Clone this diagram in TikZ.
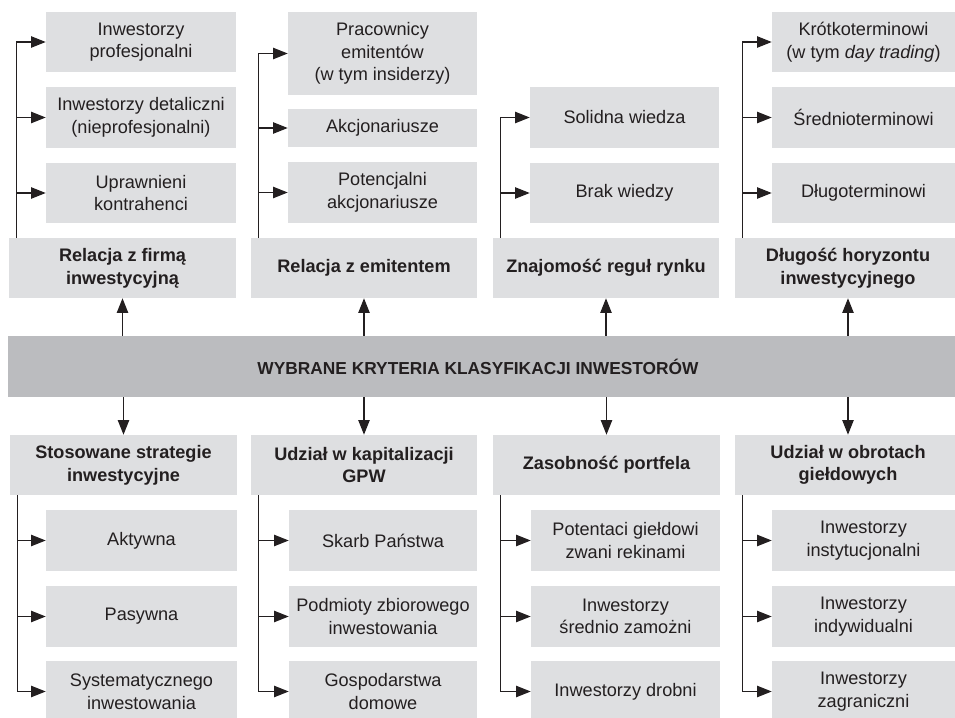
\documentclass[tikz,border=0pt]{standalone}
\usepackage{fontspec}
\setmainfont{Liberation Sans}
\usetikzlibrary{arrows.meta}
\definecolor{boxg}{HTML}{DEDFE1}
\definecolor{barg}{HTML}{BBBCBF}
\definecolor{ink}{HTML}{231F20}
\tikzset{
  bx/.style={fill=boxg, draw=none, inner sep=0pt, align=center, text=ink,
    font=\fontsize{13.6}{17}\selectfont},
  catbox/.style={bx, font=\fontsize{13.6}{17}\selectfont\bfseries},
  barbox/.style={fill=barg, draw=none, inner sep=0pt},
  arr/.style={draw=ink, line width=1pt, -{Triangle[length=11pt,width=8.5pt]}},
}
\newcommand\placebox[7]{%
  \node[#1, minimum width={0.75pt*(#5-#3)}, minimum height={0.75pt*(#6-#4)}]
    (#2) at ({(#3+#5)/2},{(#4+#6)/2}) {#7};}
\begin{document}
\begin{tikzpicture}[x=0.75pt,y=-0.75pt]
\useasboundingbox (0,0) rectangle (955,717);
\clip (0,0) rectangle (955,717);
% ---------- top row ----------
\placebox{catbox}{t1}{9}{238}{236}{298}{Relacja z firmą\\inwestycyjną}
\placebox{bx}{t11}{46}{12}{236}{72}{Inwestorzy\\profesjonalni}
\placebox{bx}{t12}{46}{87}{236}{148}{Inwestorzy detaliczni\\(nieprofesjonalni)}
\placebox{bx}{t13}{46}{163}{236}{223}{Uprawnieni\\kontrahenci}

\placebox{catbox}{t2}{251}{238}{477}{298}{Relacja z emitentem}
\placebox{bx}{t21}{288}{12}{477}{95}{Pracownicy\\emitentów\\(w tym insiderzy)}
\placebox{bx}{t22}{288}{109}{477}{147}{Akcjonariusze}
\placebox{bx}{t23}{288}{162}{477}{223}{Potencjalni\\akcjonariusze}

\placebox{catbox}{t3}{493}{238}{719}{298}{Znajomość reguł rynku}
\placebox{bx}{t31}{530}{87}{719}{148}{Solidna wiedza}
\placebox{bx}{t32}{530}{163}{719}{223}{Brak wiedzy}

\placebox{catbox}{t4}{735}{238}{961}{298}{Długość horyzontu\\inwestycyjnego}
\placebox{bx}{t41}{772}{12}{955}{72}{Krótkoterminowi\\(w tym \textit{day trading})}
\placebox{bx}{t42}{772}{87}{955}{148}{Średnioterminowi}
\placebox{bx}{t43}{772}{163}{955}{223}{Długoterminowi}

% ---------- central bar ----------
\placebox{barbox}{bar}{8}{336}{961}{397}{}
\node[text=ink, font=\fontsize{13}{16}\selectfont\bfseries] (title) at (478,366.5)
  {WYBRANE KRYTERIA KLASYFIKACJI INWESTORÓW};

% ---------- bottom row ----------
\placebox{catbox}{b1}{10}{435}{237}{495}{Stosowane strategie\\inwestycyjne}
\placebox{bx}{b11}{46}{510}{237}{571}{Aktywna}
\placebox{bx}{b12}{46}{586}{237}{647}{Pasywna}
\placebox{bx}{b13}{46}{661}{237}{722}{Systematycznego\\inwestowania}

\placebox{catbox}{b2}{251}{435}{477}{495}{Udział w kapitalizacji\\GPW}
\placebox{bx}{b21}{289}{510}{477}{571}{Skarb Państwa}
\placebox{bx}{b22}{289}{586}{477}{647}{Podmioty zbiorowego\\inwestowania}
\placebox{bx}{b23}{289}{661}{477}{722}{Gospodarstwa\\domowe}

\placebox{catbox}{b3}{493}{435}{720}{495}{Zasobność portfela}
\placebox{bx}{b31}{531}{510}{720}{571}{Potentaci giełdowi\\zwani rekinami}
\placebox{bx}{b32}{531}{586}{720}{647}{Inwestorzy\\średnio zamożni}
\placebox{bx}{b33}{531}{661}{720}{722}{Inwestorzy drobni}

\placebox{catbox}{b4}{735}{435}{961}{495}{Udział w obrotach\\giełdowych}
\placebox{bx}{b41}{772}{510}{955}{571}{Inwestorzy\\instytucjonalni}
\placebox{bx}{b42}{772}{586}{955}{647}{Inwestorzy\\indywidualni}
\placebox{bx}{b43}{772}{661}{955}{722}{Inwestorzy\\zagraniczni}

% ---------- connectors: bar to categories ----------
\foreach \c in {t1,t2,t3,t4}
  \draw[arr] (\c.south |- bar.north) -- (\c.south);
\foreach \c in {b1,b2,b3,b4}
  \draw[arr] (\c.north |- bar.south) -- (\c.north);

% ---------- connectors: categories to items ----------
\foreach \c/\k in {t1/t11,t1/t12,t1/t13,t2/t21,t2/t22,t2/t23,t3/t31,t3/t32,t4/t41,t4/t42,t4/t43}
  \draw[arr] ([xshift=6pt]\c.north west) |- (\k.west);
\foreach \c/\k in {b1/b11,b1/b12,b1/b13,b2/b21,b2/b22,b2/b23,b3/b31,b3/b32,b3/b33,b4/b41,b4/b42,b4/b43}
  \draw[arr] ([xshift=6pt]\c.south west) |- (\k.west);
\end{tikzpicture}
\end{document}
